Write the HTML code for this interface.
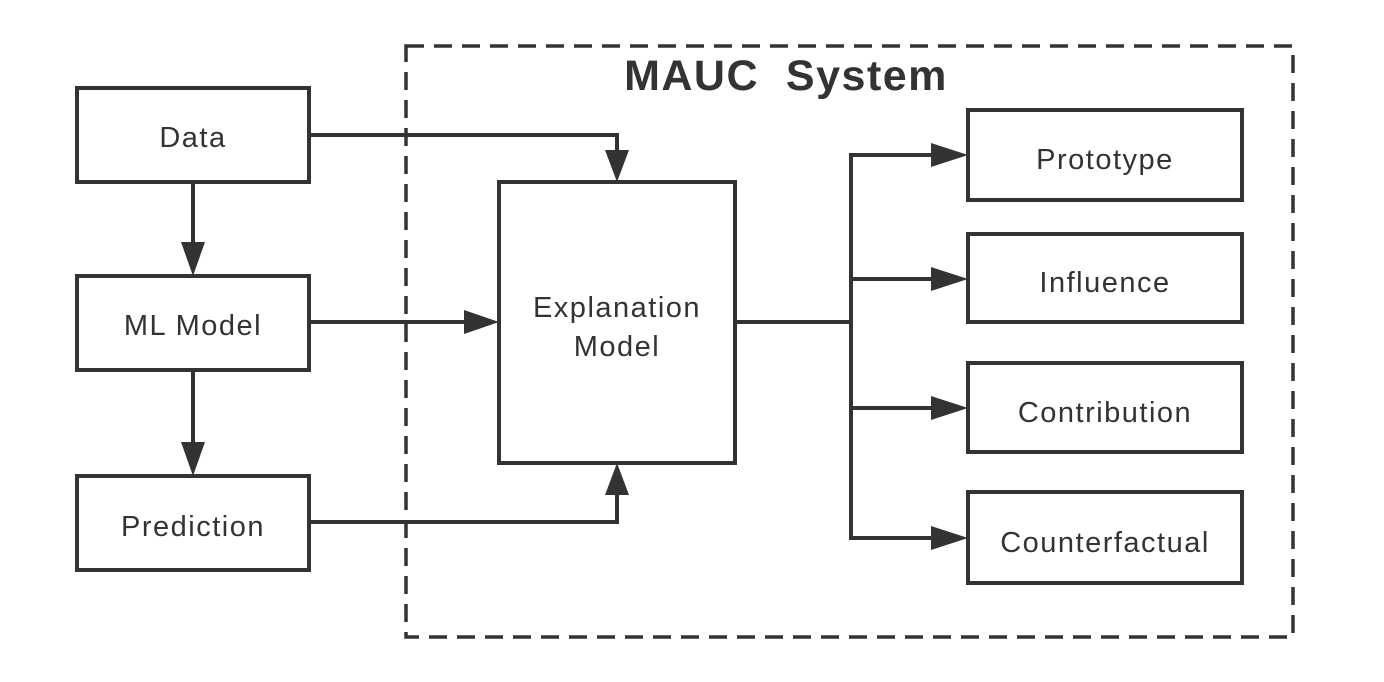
<!DOCTYPE html>
<html><head><meta charset="utf-8"><style>
html,body{margin:0;padding:0;background:#fff;}
svg{display:block;}
text{font-family:"Liberation Sans","DejaVu Sans",sans-serif;fill:#333;}
</style></head><body>
<svg width="1384" height="682" viewBox="0 0 1384 682" xmlns="http://www.w3.org/2000/svg">
<g fill="none" stroke="#333" stroke-width="4">
<rect x="406" y="46" width="887" height="591" stroke-dasharray="18,10" stroke-width="3.5"/>
<rect x="77" y="88" width="232" height="94"/>
<rect x="77" y="276" width="232" height="94"/>
<rect x="77" y="476" width="232" height="94"/>
<rect x="499" y="182" width="236" height="281"/>
<rect x="968" y="110" width="274" height="90"/>
<rect x="968" y="234" width="274" height="88"/>
<rect x="968" y="363" width="274" height="89"/>
<rect x="968" y="492" width="274" height="91"/>
<polyline points="309,135 617,135 617,150"/>
<polyline points="309,522 617,522 617,495"/>
<line x1="309" y1="322" x2="466" y2="322"/>
<line x1="193" y1="182" x2="193" y2="242"/>
<line x1="193" y1="370" x2="193" y2="442"/>
<line x1="735" y1="322" x2="851" y2="322"/>
<polyline points="933,155 851,155 851,538 933,538"/>
<line x1="851" y1="279" x2="933" y2="279"/>
<line x1="851" y1="408" x2="933" y2="408"/>
</g>
<g fill="#333">
<polygon points="605,150 629,150 617,182"/>
<polygon points="605,495 629,495 617,463"/>
<polygon points="464,310 464,334 499,322"/>
<polygon points="181,242 205,242 193,276"/>
<polygon points="181,442 205,442 193,476"/>
<polygon points="931,143 931,167 968,155"/>
<polygon points="931,267 931,291 968,279"/>
<polygon points="931,396 931,420 968,408"/>
<polygon points="931,526 931,550 968,538"/>
</g>
<g font-size="29" text-anchor="middle" letter-spacing="1.5">
<text x="193" y="147">Data</text>
<text x="193" y="335">ML Model</text>
<text x="193" y="536">Prediction</text>
<text x="617" y="317">Explanation</text>
<text x="617" y="356">Model</text>
<text x="1105" y="169">Prototype</text>
<text x="1105" y="292">Influence</text>
<text x="1105" y="422">Contribution</text>
<text x="1105" y="552">Counterfactual</text>
</g>
<text x="786" y="90" font-size="43" font-weight="bold" text-anchor="middle" letter-spacing="1.5" xml:space="preserve">MAUC  System</text>
</svg>
</body></html>
